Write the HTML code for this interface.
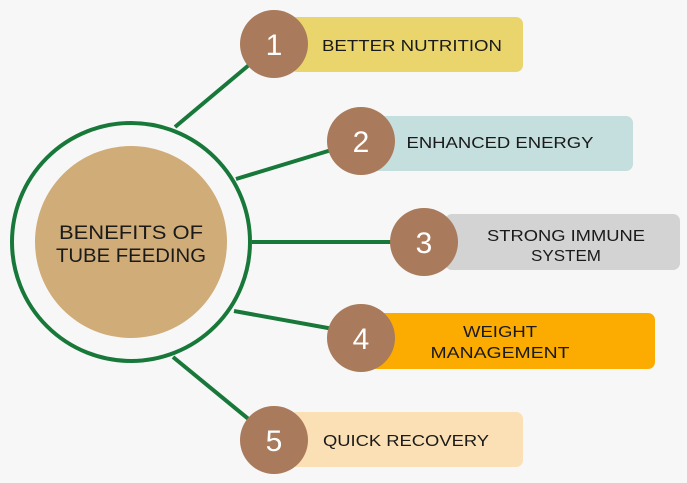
<!DOCTYPE html>
<html><head><meta charset="utf-8"><style>
html,body{margin:0;padding:0;background:#f7f7f7;}
svg{display:block}
text{font-family:"Liberation Sans",sans-serif;}
</style></head><body>
<svg width="687" height="483" viewBox="0 0 687 483">
<rect width="687" height="483" fill="#f7f7f7"/>
<g stroke="#18783a" stroke-width="4" fill="none">
<line x1="175" y1="127" x2="274" y2="44"/>
<line x1="236" y1="179" x2="361" y2="141"/>
<line x1="252" y1="242" x2="424" y2="242"/>
<line x1="234" y1="311" x2="361" y2="334"/>
<line x1="173" y1="357" x2="274" y2="440"/>
<circle cx="131" cy="242" r="119"/>
</g>
<circle cx="131" cy="242" r="96" fill="#cfac78"/>
<text x="131" y="239" font-size="19" text-anchor="middle" fill="#1a1a1a" textLength="144" lengthAdjust="spacingAndGlyphs">BENEFITS OF</text>
<text x="131" y="262" font-size="19" text-anchor="middle" fill="#1a1a1a" textLength="150" lengthAdjust="spacingAndGlyphs">TUBE FEEDING</text>
<rect x="290" y="17" width="233" height="55" rx="7" fill="#ead56d"/>
<rect x="370" y="116" width="263" height="55" rx="7" fill="#c4dfde"/>
<rect x="445" y="214" width="235" height="56" rx="7" fill="#d3d3d3"/>
<rect x="370" y="313" width="285" height="56" rx="7" fill="#fcac00"/>
<rect x="290" y="412" width="233" height="55" rx="7" fill="#fbe0b5"/>
<g fill="#a97a5b">
<circle cx="274" cy="44" r="34"/>
<circle cx="361" cy="141" r="34"/>
<circle cx="424" cy="242" r="34"/>
<circle cx="361" cy="338" r="34"/>
<circle cx="274" cy="440" r="34"/>
</g>
<g fill="#fff" font-size="30" text-anchor="middle">
<text x="274" y="55">1</text>
<text x="361" y="152">2</text>
<text x="424" y="253">3</text>
<text x="361" y="349">4</text>
<text x="274" y="451">5</text>
</g>
<g fill="#1a1a1a" font-size="16" text-anchor="middle">
<text x="412" y="51" textLength="180" lengthAdjust="spacingAndGlyphs">BETTER NUTRITION</text>
<text x="500" y="148" textLength="187" lengthAdjust="spacingAndGlyphs">ENHANCED ENERGY</text>
<text x="566" y="241" textLength="158" lengthAdjust="spacingAndGlyphs">STRONG IMMUNE</text>
<text x="566" y="261" textLength="70" lengthAdjust="spacingAndGlyphs">SYSTEM</text>
<text x="500" y="337" textLength="74" lengthAdjust="spacingAndGlyphs">WEIGHT</text>
<text x="500" y="358" textLength="139" lengthAdjust="spacingAndGlyphs">MANAGEMENT</text>
<text x="406" y="446" textLength="166" lengthAdjust="spacingAndGlyphs">QUICK RECOVERY</text>
</g>
</svg>
</body></html>
